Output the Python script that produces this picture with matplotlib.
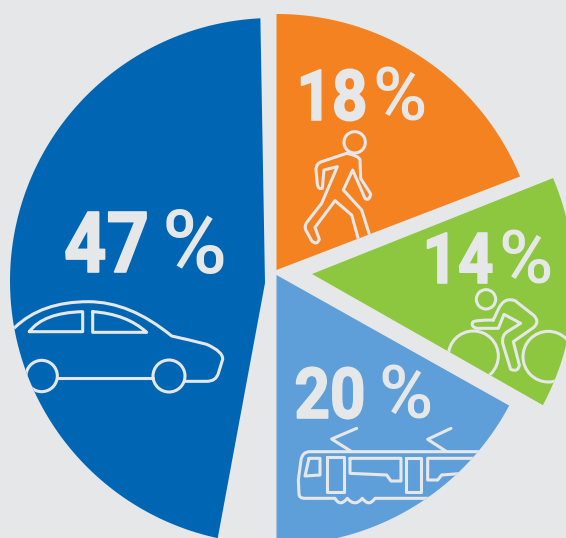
import numpy as np
import matplotlib
matplotlib.use("Agg")
import matplotlib.pyplot as plt
import matplotlib.patheffects as pe
from matplotlib.patches import Polygon, Circle, PathPatch
from matplotlib.path import Path
from matplotlib.transforms import Affine2D

# --- data ---
modes = ["car", "walk", "bike", "tram"]
shares = [47, 18, 14, 20]
# sweep of each slice as drawn in the picture (degrees, not quite proportional)
sweep_deg = [168.5, 69.0, 51.3, 60.7]
share_labels = ["47", "18", "14", "20"]

BG = "#e6e7e9"
INK = "#e6e7e9"
colors = ["#0066b3", "#f58220", "#8dc63f", "#5f9fd9"]
start_deg = [100.5, -90.0, -21.7, 29.3]
apex = [(265, 283), (276.5, 270), (312, 274), (276.5, 275)]
# the slices are cut from circles that are shifted apart, tips do not sit on the centres
arc_center = [(273, 281), (277, 277), (311, 281), (277, 282)]
ARC_R = 263

# centre x, baseline y, cap height in px
num_pos = [(106.5, 272, 60), (332, 120, 50), (458, 283, 50), (330, 418, 50)]
pct_pos = [(194.5, 272, 60), (399, 120, 50), (526, 283, 50), (406, 418, 50)]


class Squeeze(pe.AbstractPathEffect):
    # narrows and fattens the glyphs around their centre, the DIN look of the original
    def __init__(self, sx, x0, fat=1.0):
        super().__init__()
        self.sx = sx
        self.x0 = x0
        self.fat = fat

    def draw_path(self, renderer, gc, tpath, affine, rgbFace=None):
        squeeze = Affine2D().translate(-self.x0, 0).scale(self.sx, 1).translate(self.x0, 0)
        gc0 = renderer.new_gc()
        gc0.copy_properties(gc)
        gc0.set_linewidth(self.fat)
        gc0.set_foreground(INK)
        renderer.draw_path(gc0, tpath, affine + squeeze, rgbFace)
        gc0.restore()


def slice_outline(tip, center, r, start, sweep):
    # walk the angle from the tip and stop every ray where it meets the circle
    pts = [tip]
    d0 = np.subtract(tip, center)
    for a in np.radians(np.linspace(start, start + sweep, 200)):
        u = np.array([np.cos(a), np.sin(a)])
        b = d0 @ u
        t = -b + np.sqrt(b * b - d0 @ d0 + r * r)
        pts.append(tip + t * u)
    return np.array(pts)


fig = plt.figure(figsize=(5.66, 5.38), dpi=100, facecolor=BG)
ax = fig.add_axes([0, 0, 1, 1])
ax.set_xlim(0, 566)
ax.set_ylim(538, 0)   # pixel coords, y goes down
ax.axis("off")

wedges = []
for i in range(len(shares)):
    w = Polygon(slice_outline(np.array(apex[i], float), arc_center[i], ARC_R, start_deg[i], sweep_deg[i]),
                closed=True, fc=colors[i], ec="none")
    ax.add_patch(w)
    wedges.append(w)


def outline(origin, first, *segs, closed=False):
    # zoom crops are 3x, so points are divided by 3 and shifted by the crop origin
    ox, oy = origin
    pt = lambda p: (ox + p[0] / 3, oy + p[1] / 3)
    verts, codes = [pt(first)], [Path.MOVETO]
    for s in segs:
        if isinstance(s[0], (int, float)):
            s = [s]
        kind = {1: Path.LINETO, 2: Path.CURVE3, 3: Path.CURVE4}[len(s)]
        for p in s:
            verts.append(pt(p))
            codes.append(kind)
    if closed:
        verts.append(pt(first))
        codes.append(Path.LINETO)
    return Path(verts, codes)


def stroke(path, clip, lw=2.2):
    p = PathPatch(path, fc="none", ec=INK, lw=lw, joinstyle="round", capstyle="round")
    ax.add_patch(p)
    p.set_clip_path(clip)


def ring(origin, c, r, clip, lw=2.2):
    p = Circle((origin[0] + c[0] / 3, origin[1] + c[1] / 3), r / 3, fc="none", ec=INK, lw=lw)
    ax.add_patch(p)
    p.set_clip_path(clip)


# car
o = (0, 290)
stroke(outline(o, (0, 150), (45, 112), [(125, 35), (265, 35)], [(390, 35), (515, 138)],
               [(570, 150), (620, 163)], [(670, 185), (668, 208)], (655, 250),
               [(648, 274), (620, 274)], (555, 274)), wedges[0])
stroke(outline(o, (175, 263), (460, 263)), wedges[0])
ring(o, (125, 258), 47, wedges[0])
ring(o, (507, 258), 48, wedges[0])
stroke(outline(o, (88, 125), [(130, 68), (248, 65)], (248, 125), closed=True), wedges[0])
stroke(outline(o, (278, 65), [(380, 72), (440, 127)], (278, 127), closed=True), wedges[0])

# pedestrian
o = (280, 120)
ring(o, (224, 67), 32, wedges[1])
stroke(outline(o, (200, 100), (125, 125), [(108, 130), (108, 150)], (112, 192), [(115, 210), (127, 205)],
               (132, 150), (172, 140), (125, 250), (82, 305), [(70, 320), (80, 335)], (95, 362),
               [(110, 378), (118, 358)], (105, 322), (165, 242), (215, 285), (240, 375)), wedges[1])
stroke(outline(o, (275, 365), (245, 270), (190, 210), (218, 150), (255, 235), [(268, 245), (272, 222)],
               (242, 175), (240, 120), [(238, 108), (200, 100)]), wedges[1])

# cyclist
o = (430, 280)
ring(o, (168, 58), 29, wedges[2])
ring(o, (130, 228), 75, wedges[2])
ring(o, (355, 230), 76, wedges[2])
stroke(outline(o, (190, 120), (205, 88), [(222, 50), (255, 62)], (310, 105), [(332, 125), (310, 143)],
               (250, 185), (268, 255), [(265, 278), (242, 268)], (218, 190), [(215, 165), (232, 155)], (272, 130),
               (222, 103), (205, 145), (140, 145), [(122, 140), (128, 127)], [(130, 120), (190, 120)]), wedges[2])

# tram
o = (285, 420)
c = wedges[3]
stroke(outline(o, (600, 95), (75, 95), [(52, 95), (48, 120)], (40, 180), (42, 222), [(42, 235), (60, 235)],
               (150, 235), [(165, 262), (187, 235)], [(210, 262), (232, 235)], [(252, 262), (270, 235)], (600, 235)), c)
stroke(outline(o, (215, 25), (140, 57), (200, 95)), c)
stroke(outline(o, (498, 25), (428, 58), (485, 95)), c)
stroke(outline(o, (72, 115), (105, 115), (105, 165), (60, 168), closed=True), c)
stroke(outline(o, (127, 112), (177, 112), (177, 215), (127, 215), closed=True), c)
stroke(outline(o, (195, 115), (348, 115), (348, 183), (318, 183), (305, 165), (195, 160), closed=True), c)
stroke(outline(o, (362, 115), (408, 115), (408, 215), (362, 215), closed=True), c)
stroke(outline(o, (600, 115), (428, 115), (428, 180), (458, 180), (470, 165), (600, 155)), c)

# labels
for i, lab in enumerate(share_labels):
    x, y, h = num_pos[i]
    t = ax.text(x, y, lab, family="Roboto", weight="bold", fontsize=h * 0.72 / 0.711, color=INK,
                ha="center", va="baseline")
    # centre in display px, fig is 1:1 with the pixel coords at dpi 100
    t.set_path_effects([Squeeze(0.88, x, fat=1.2)])
    x, y, h = pct_pos[i]
    ax.text(x, y + 0.5, "%", family="Roboto", weight="medium", fontsize=h * 1.05 * 0.72 / 0.711, color=INK,
            ha="center", va="baseline")

fig.savefig("out.png", dpi=100, facecolor=BG)
